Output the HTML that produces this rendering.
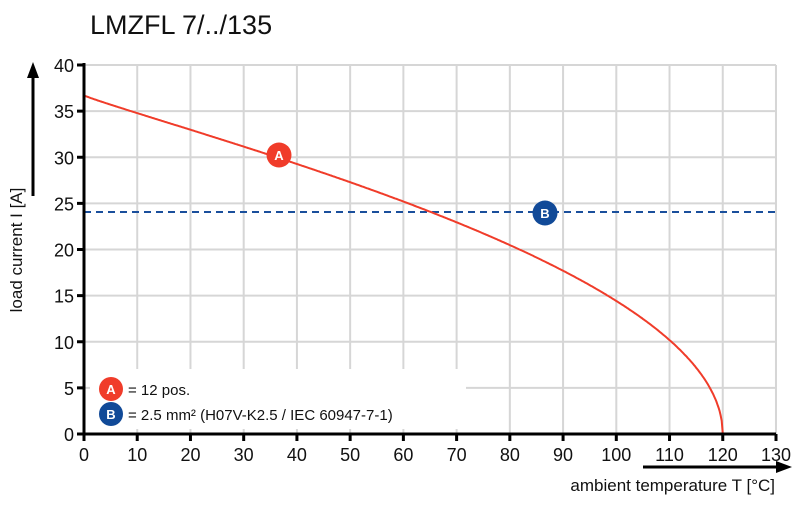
<!DOCTYPE html>
<html><head><meta charset="utf-8"><style>
body{margin:0;background:#fff;}
svg text{font-family:"Liberation Sans",Arial,sans-serif;}
</style></head><body>
<svg id="s" width="800" height="500" xmlns="http://www.w3.org/2000/svg">
<text x="90" y="34" font-size="27" fill="#111">LMZFL 7/../135</text>
<g id="grid" stroke="#d6d6d6" stroke-width="2"></g>
<rect x="90" y="369" width="376" height="60" fill="#fff"/>
<line x1="84" y1="212" x2="776" y2="212" stroke="#1a4f9c" stroke-width="2" stroke-dasharray="7,5"/>
<path id="curve" fill="none" stroke="#f03c2a" stroke-width="2"/>
<g id="axes" stroke="#000" stroke-width="3"></g>
<g id="lbl" font-size="18" fill="#111"></g>
<circle cx="279" cy="155" r="12.5" fill="#f03c2a"/><text x="279" y="160" font-size="13" font-weight="bold" fill="#fff" text-anchor="middle">A</text>
<circle cx="545" cy="213" r="12.5" fill="#114a98"/><text x="545" y="218" font-size="13" font-weight="bold" fill="#fff" text-anchor="middle">B</text>
<circle cx="111" cy="389" r="12" fill="#f03c2a"/><text x="111" y="394" font-size="13" font-weight="bold" fill="#fff" text-anchor="middle">A</text>
<circle cx="111" cy="414" r="12" fill="#114a98"/><text x="111" y="419" font-size="13" font-weight="bold" fill="#fff" text-anchor="middle">B</text>
<text x="128" y="395" font-size="15" fill="#111">= 12 pos.</text>
<text x="128" y="420" font-size="15" fill="#111">= 2.5 mm² (H07V-K2.5 / IEC 60947-7-1)</text>
<text transform="translate(22,250) rotate(-90)" font-size="17" fill="#111" text-anchor="middle">load current I [A]</text>
<line x1="33" y1="196" x2="33" y2="75" stroke="#000" stroke-width="3"/>
<polygon points="33,62 27,78 39,78" fill="#000"/>
<text x="775" y="491" font-size="17" fill="#111" text-anchor="end">ambient temperature T [°C]</text>
<line x1="643" y1="467" x2="778" y2="467" stroke="#000" stroke-width="3"/>
<polygon points="792,467 776,461 776,473" fill="#000"/>
</svg>
<script>
var X=t=>84+t*5.323,Y=i=>434-i*9.225,NS="http://www.w3.org/2000/svg";
function el(p,n,a,t){var e=document.createElementNS(NS,n);for(var k in a)e.setAttribute(k,a[k]);if(t!=null)e.textContent=t;document.getElementById(p).appendChild(e);}
for(var t=10;t<=130;t+=10)el("grid","line",{x1:X(t),y1:65,x2:X(t),y2:434});
for(var i=5;i<=40;i+=5)el("grid","line",{x1:84,y1:Y(i),x2:776,y2:Y(i)});
el("axes","line",{x1:84,y1:63,x2:84,y2:436});
el("axes","line",{x1:82,y1:434,x2:776,y2:434});
for(var t=0;t<=130;t+=10){el("axes","line",{x1:X(t),y1:434,x2:X(t),y2:441});el("lbl","text",{x:X(t),y:461,"text-anchor":"middle"},t);}
for(var i=0;i<=40;i+=5){el("axes","line",{x1:77,y1:Y(i),x2:84,y2:Y(i)});el("lbl","text",{x:74,y:Y(i)+7,"text-anchor":"end"},i);}
var d="";for(var k=0;k<=600;k++){var t=k*0.2;var v=36.7*Math.sqrt(Math.max(0,1-Math.pow(t/120,0.92)));d+=(k?"L":"M")+X(t).toFixed(1)+","+Y(v).toFixed(1);}
document.getElementById("curve").setAttribute("d",d);
</script>
</body></html>
